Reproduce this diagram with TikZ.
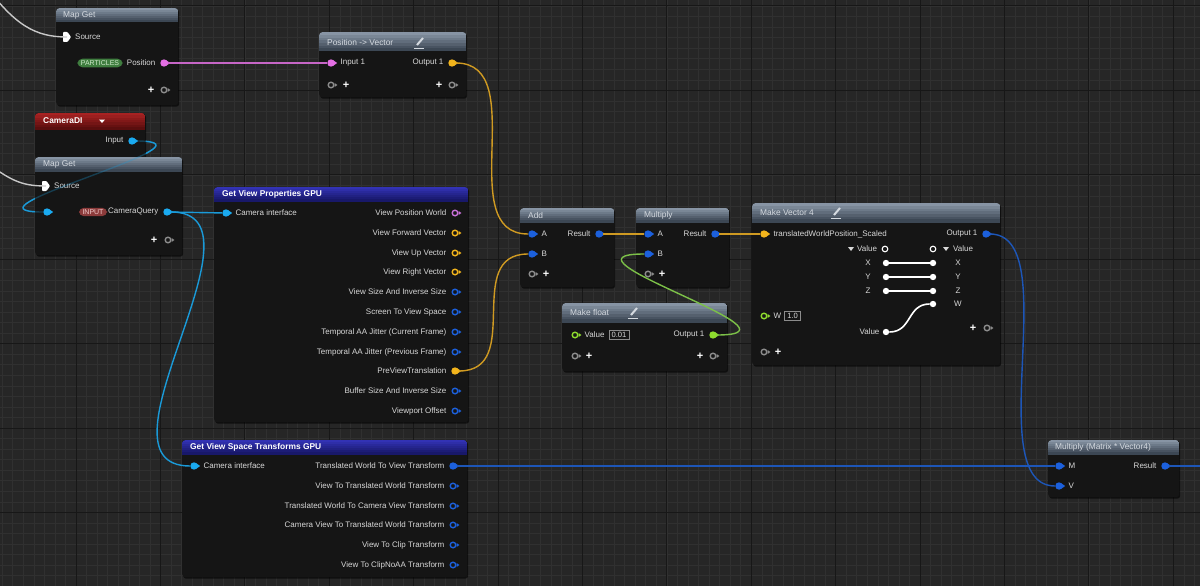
\documentclass[tikz,border=0pt]{standalone}
\usepackage{fontspec}
\setmainfont{Liberation Sans}
\usetikzlibrary{positioning,shadows}
\definecolor{bg}{HTML}{262626}
\definecolor{gminor}{HTML}{303030}
\definecolor{gmajor}{HTML}{171717}
\definecolor{nbg}{HTML}{151515}
\definecolor{grytop}{HTML}{8794A4}
\definecolor{grybot}{HTML}{3C4754}
\definecolor{redtop}{HTML}{A82222}
\definecolor{redbot}{HTML}{5A0E0E}
\definecolor{blutop}{HTML}{3232B4}
\definecolor{blubot}{HTML}{18186A}
\definecolor{htxt}{HTML}{D5DAE0}
\definecolor{ltxt}{HTML}{D8D8D8}
\definecolor{pk}{HTML}{E46FE4}
\definecolor{pkw}{HTML}{C766C7}
\definecolor{yl}{HTML}{F2B41C}
\definecolor{ylw}{HTML}{CF9A22}
\definecolor{bl}{HTML}{1C60DC}
\definecolor{blw}{HTML}{1D56B8}
\definecolor{cy}{HTML}{1AAAF0}
\definecolor{cyw}{HTML}{1A9AD8}
\definecolor{gr}{HTML}{8EDC2E}
\definecolor{grw}{HTML}{7CC048}
\definecolor{vi}{HTML}{C870D8}
\definecolor{gy}{HTML}{8C8C8C}
\definecolor{wr}{HTML}{C8C8C8}
\definecolor{pillg}{HTML}{3F7D3F}
\definecolor{pillgt}{HTML}{CFEACB}
\definecolor{pillr}{HTML}{8C3B3B}
\definecolor{pillrt}{HTML}{F3CFCF}
\pgfdeclarelayer{grid}
\pgfdeclarelayer{under}
\pgfdeclarelayer{wires}
\pgfsetlayers{grid,under,main,wires}
\tikzset{
	nbox/.style 2 args={fill=nbg, rounded corners=3pt, anchor=north west, inner sep=0pt,
		drop shadow={shadow xshift=1pt, shadow yshift=-1.5pt, fill=black, opacity=0.6},
		path picture={\foreach \k in {0,...,6} {\pgfmathtruncatemacro\hdmix{100-\k*100/6}
			\fill[sharp corners, #1top!\hdmix!#1bot] ([yshift={-\k*#2/7*1pt}]path picture bounding box.north west) rectangle ([yshift={-((\k+1)*#2/7+0.3)*1pt}]path picture bounding box.north east);}}},
	htitle/.style={anchor=west, inner sep=0pt, text=htxt, font=\fontsize{8.4}{10}\selectfont},
	btitle/.style={anchor=west, inner sep=0pt, text=white, font=\fontsize{8.4}{10}\selectfont\bfseries},
	lbl/.style={inner sep=0pt, text=ltxt, font=\fontsize{8}{9.6}\selectfont},
	dpin/.style={circle, fill=#1, inner sep=0pt, minimum size=7.4pt,
		append after command={\pgfextra{\fill[#1] (\tikzlastnode.center) ++(2.4,-2.6) -- ++(3.8,2.6) -- ++(-3.8,2.6) -- cycle;}}},
	hpin/.style={circle, draw=#1, line width=1.4pt, inner sep=0pt, minimum size=5.6pt,
		append after command={\pgfextra{\fill[#1] (\tikzlastnode.center) ++(3.6,-2) -- ++(2.8,2) -- ++(-2.8,2) -- cycle;}}},
	plus/.style={inner sep=0pt, text=white, font=\fontsize{11}{11}\selectfont\bfseries},
	pill/.style={rounded corners=5pt, inner xsep=3.5pt, inner ysep=1.8pt, font=\fontsize{7}{8}\selectfont},
	valbox/.style={draw=gy, line width=0.7pt, fill=nbg, text=ltxt, inner xsep=2.5pt, inner ysep=2pt, font=\fontsize{7.6}{9}\selectfont},
	dot/.style={circle, fill=white, inner sep=0pt, minimum size=6.4pt},
	ring/.style={circle, draw=white, line width=1.1pt, inner sep=0pt, minimum size=5.6pt},
	wire/.style={line width=1.4pt},
}

\begin{document}
\begin{tikzpicture}[x=1pt,y=-1pt]
	\useasboundingbox (0,0) rectangle (1200,586);

	% Grid
	\begin{pgfonlayer}{grid}
		\fill[bg] (0,0) rectangle (1200,586);
		\foreach \i in {0,...,114} \draw[gminor, line width=0.6pt] ({2.2+10.55*\i},0) -- ++(0,586);
		\foreach \i in {-1,...,55} \draw[gminor, line width=0.6pt] (0,{6+10.55*\i}) -- ++(1200,0);
		\foreach \i in {0,...,14} \draw[gmajor, line width=1pt] ({-8.4+84.4*\i},0) -- ++(0,586);
		\foreach \i in {0,...,6} \draw[gmajor, line width=1pt] (0,{6+84.4*\i}) -- ++(1200,0);
	\end{pgfonlayer}

	% Map Get (particles)
	\node[nbox={gry}{14}, minimum width=122, minimum height=97] (mgA) at (56,8) {};
	\node[htitle] at (63,15) {Map Get};
	\coordinate (mgAsrc) at (67,37);
	\fill[white, rounded corners=0.8pt] (mgAsrc) ++(-4,-5) -- ++(4.5,0) -- ++(3.5,5) -- ++(-3.5,5) -- ++(-4.5,0) -- cycle;
	\node[lbl, anchor=west] at (75,37) {Source};
	\node[pill, fill=pillg, text=pillgt] at (100,63) {PARTICLES};
	\node[dpin=pk] (mgApos) at (164,63) {};
	\node[lbl, left=4.5pt of mgApos] {Position};
	\node[hpin=gy] (mgAadd) at (164,90) {};
	\node[plus] at (151,90) {+};

	% Position -> Vector
	\node[nbox={gry}{19}, minimum width=147, minimum height=65] (pv) at (319,32) {};
	\node[htitle] at (327,42) {Position -> Vector};
	\draw[htxt, line width=2pt] (417,45) -- (423,38);
	\draw[htxt, line width=0.8pt] (414,48) -- (424,48);
	\node[dpin=pk] (pvIn) at (331,63) {};
	\node[lbl, right=5.5pt of pvIn] {Input 1};
	\node[dpin=yl] (pvOut) at (452,63) {};
	\node[lbl, left=4.5pt of pvOut] {Output 1};
	\node[hpin=gy] (pvAddL) at (331,85) {};
	\node[plus] at (346,85) {+};
	\node[hpin=gy] (pvAddR) at (452,85) {};
	\node[plus] at (439,85) {+};

	% CameraDI
	\node[nbox={red}{16}, minimum width=110, minimum height=46] (camdi) at (35,113) {};
	\node[btitle] at (43,121) {CameraDI};
	\fill[white] (99,119.5) -- (105,119.5) -- (102,123) -- cycle;
	\node[dpin=cy] (camIn) at (132,141) {};
	\node[lbl, left=4.5pt of camIn] {Input};

	% Map Get (camera query)
	\node[nbox={gry}{14}, minimum width=147, minimum height=98] (mgB) at (35,157) {};
	\node[htitle] at (43,164) {Map Get};
	\coordinate (mgBsrc) at (46,186);
	\fill[white, rounded corners=0.8pt] (mgBsrc) ++(-4,-5) -- ++(4.5,0) -- ++(3.5,5) -- ++(-3.5,5) -- ++(-4.5,0) -- cycle;
	\node[lbl, anchor=west] at (54,186) {Source};
	\node[dpin=cy] (mgBin) at (47,212) {};
	\node[pill, fill=pillr, text=pillrt] at (93,212) {INPUT};
	\node[dpin=cy] (mgBq) at (167,212) {};
	\node[lbl, left=4.5pt of mgBq] {CameraQuery};
	\node[hpin=gy] (mgBadd) at (168,240) {};
	\node[plus] at (154,240) {+};

	% Get View Properties GPU
	\node[nbox={blu}{14}, minimum width=254, minimum height=235] (gvp) at (214,187) {};
	\node[btitle] at (222,194) {Get View Properties GPU};
	\node[dpin=cy] (gvpCam) at (226,213) {};
	\node[lbl, right=5.5pt of gvpCam] {Camera interface};
	\foreach \y/\t/\c in {213/View Position World/vi, 233/View Forward Vector/yl, 253/View Up Vector/yl, 272/View Right Vector/yl, 292/View Size And Inverse Size/bl, 312/Screen To View Space/bl, 332/Temporal AA Jitter (Current Frame)/bl, 352/Temporal AA Jitter (Previous Frame)/bl, 391/Buffer Size And Inverse Size/bl, 411/Viewport Offset/bl}
	{
		\node[hpin=\c] (gvpo) at (455,\y) {};
		\node[lbl, left=5pt of gvpo] {\t};
	}
	\node[dpin=yl] (gvpPre) at (455,371) {};
	\node[lbl, left=4.5pt of gvpPre] {PreViewTranslation};

	% Get View Space Transforms GPU
	\node[nbox={blu}{14}, minimum width=285, minimum height=137] (gvs) at (182,440) {};
	\node[btitle] at (190,447) {Get View Space Transforms GPU};
	\node[dpin=cy] (gvsCam) at (194,466) {};
	\node[lbl, right=5.5pt of gvsCam] {Camera interface};
	\node[dpin=bl] (gvsT2V) at (453,466) {};
	\node[lbl, left=4.5pt of gvsT2V] {Translated World To View Transform};
	\foreach \y/\t in {486/View To Translated World Transform, 506/Translated World To Camera View Transform, 525/Camera View To Translated World Transform, 545/View To Clip Transform, 565/View To ClipNoAA Transform}
	{
		\node[hpin=bl] (gvso) at (453,\y) {};
		\node[lbl, left=5pt of gvso] {\t};
	}

	% Add
	\node[nbox={gry}{14}, minimum width=94, minimum height=79] (add) at (520,208) {};
	\node[htitle] at (528,215) {Add};
	\node[dpin=bl] (addA) at (532,234) {};
	\node[lbl, right=5.5pt of addA] {A};
	\node[dpin=bl] (addB) at (532,254) {};
	\node[lbl, right=5.5pt of addB] {B};
	\node[hpin=gy] (addAdd) at (532,274) {};
	\node[plus] at (546,274) {+};
	\node[dpin=bl] (addR) at (599,234) {};
	\node[lbl, left=4.5pt of addR] {Result};

	% Multiply
	\node[nbox={gry}{14}, minimum width=93, minimum height=79] (mul) at (636,208) {};
	\node[htitle] at (644,215) {Multiply};
	\node[dpin=bl] (mulA) at (648,234) {};
	\node[lbl, right=5.5pt of mulA] {A};
	\node[dpin=bl] (mulB) at (648,254) {};
	\node[lbl, right=5.5pt of mulB] {B};
	\node[hpin=gy] (mulAdd) at (648,274) {};
	\node[plus] at (662,274) {+};
	\node[dpin=bl] (mulR) at (715,234) {};
	\node[lbl, left=4.5pt of mulR] {Result};

	% Make float
	\node[nbox={gry}{19}, minimum width=165, minimum height=68] (mf) at (562,303) {};
	\node[htitle] at (570,312) {Make float};
	\draw[htxt, line width=2pt] (631,315) -- (637,308);
	\draw[htxt, line width=0.8pt] (628,318) -- (638,318);
	\node[hpin=gr] (mfVal) at (575,335) {};
	\node[lbl, right=6pt of mfVal] (mfValT) {Value};
	\node[valbox, right=4pt of mfValT] {0.01};
	\node[dpin=gr] (mfOut) at (713,335) {};
	\node[lbl, left=4.5pt of mfOut] {Output 1};
	\node[hpin=gy] (mfAddL) at (575,356) {};
	\node[plus] at (589,356) {+};
	\node[hpin=gy] (mfAddR) at (713,356) {};
	\node[plus] at (700,356) {+};

	% Make Vector 4
	\node[nbox={gry}{19}, minimum width=248, minimum height=162] (mv) at (752,203) {};
	\node[htitle] at (760,212) {Make Vector 4};
	\draw[htxt, line width=2pt] (834,215) -- (840,208);
	\draw[htxt, line width=0.8pt] (831,218) -- (841,218);
	\node[dpin=yl] (mvIn) at (764,234) {};
	\node[lbl, right=5.5pt of mvIn] {translatedWorldPosition\_Scaled};
	\node[dpin=bl] (mvOut) at (986,234) {};
	\node[lbl, left=4.5pt of mvOut] {Output 1};
	\fill[ltxt] (848,247) -- (854,247) -- (851,251) -- cycle;
	\node[lbl, anchor=west] at (857,249) {Value};
	\node[ring] (mvVl) at (885,249) {};
	\node[ring] (mvVr) at (933,249) {};
	\fill[ltxt] (943,247) -- (949,247) -- (946,251) -- cycle;
	\node[lbl, anchor=west] at (953,249) {Value};
	\foreach \y/\c in {263/X, 277/Y, 291/Z}
	{
		\node[lbl] at (868,\y) {\c};
		\node[lbl] at (958,\y) {\c};
		\node[dot] (mvl\c) at (886,\y) {};
		\node[dot] (mvr\c) at (933,\y) {};
		\draw[white, line width=1.6pt] (mvl\c) -- (mvr\c);
	}
	\node[dot] (mvrW) at (933,304) {};
	\node[lbl] at (958,304) {W};
	\node[dot] (mvlV) at (886,332) {};
	\node[lbl, left=3pt of mvlV] {Value};
	\draw[white, line width=1.6pt] (mvlV) .. controls +(26,0) and +(-26,0) .. (mvrW);
	\node[hpin=gr] (mvW) at (764,316) {};
	\node[lbl, right=6pt of mvW] (mvWT) {W};
	\node[valbox, right=3pt of mvWT] {1.0};
	\node[hpin=gy] (mvAddL) at (764,352) {};
	\node[plus] at (778,352) {+};
	\node[hpin=gy] (mvAddR) at (987,328) {};
	\node[plus] at (973,328) {+};

	% Multiply (Matrix * Vector4)
	\node[nbox={gry}{14}, minimum width=131, minimum height=57] (mm) at (1048,440) {};
	\node[htitle] at (1055,447) {Multiply (Matrix * Vector4)};
	\node[dpin=bl] (mmM) at (1059,466) {};
	\node[lbl, right=5.5pt of mmM] {M};
	\node[dpin=bl] (mmV) at (1059,486) {};
	\node[lbl, right=5.5pt of mmV] {V};
	\node[dpin=bl] (mmR) at (1165,466) {};
	\node[lbl, left=4.5pt of mmR] {Result};

	% Wire ends outside the view
	\coordinate (offA) at (-15,-15);
	\coordinate (offB) at (-20,158);
	\coordinate (offR) at (1215,466);

	% Wires
	\begin{pgfonlayer}{under}
		\draw[wire, cyw] (camIn) .. controls +(100,0) and +(-100,0) .. (mgBin);
	\end{pgfonlayer}
	\begin{pgfonlayer}{wires}
		\draw[wire, wr] (offA) .. controls (15,25) and (35,37) .. (mgAsrc);
		\draw[wire, wr] (offB) .. controls (10,180) and (20,186) .. (mgBsrc);
		\draw[wire, cyw, opacity=0.3] (camIn) .. controls +(100,0) and +(-100,0) .. (mgBin);
		\draw[wire, pkw] (mgApos) -- (pvIn);
		\draw[wire, cyw] (mgBq) -- (gvpCam);
		\draw[wire, cyw] (mgBq) .. controls +(110,0) and +(-110,0) .. (gvsCam);
		\draw[wire, ylw] (pvOut) .. controls +(80,0) and +(-80,0) .. (addA);
		\draw[wire, ylw] (gvpPre) .. controls +(70,0) and +(-70,0) .. (addB);
		\draw[wire, ylw] (addR) -- (mulA);
		\draw[wire, ylw] (mulR) -- (mvIn);
		\draw[wire, grw] (mfOut) .. controls +(105,0) and +(-105,0) .. (mulB);
		\draw[wire, blw] (mvOut) .. controls +(80,0) and +(-80,0) .. (mmV);
		\draw[wire, blw] (gvsT2V) -- (mmM);
		\draw[wire, blw] (mmR) -- (offR);
	\end{pgfonlayer}
\end{tikzpicture}
\end{document}
